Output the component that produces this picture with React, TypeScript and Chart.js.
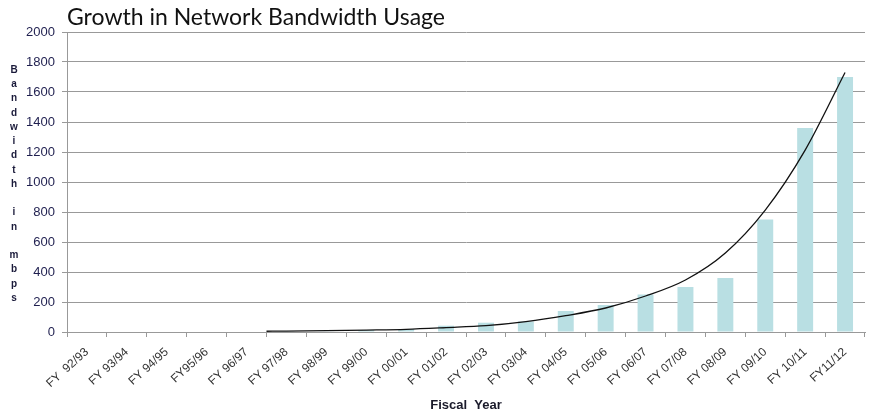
import { useEffect, useRef } from "react";
import { Chart, registerables } from "chart.js";

Chart.register(...registerables);

const categories = [
  "FY  92/93", "FY 93/94", "FY 94/95", "FY95/96", "FY 96/97",
  "FY 97/98", "FY 98/99", "FY 99/00", "FY 00/01", "FY 01/02",
  "FY 02/03", "FY 03/04", "FY 04/05", "FY 05/06", "FY 06/07",
  "FY 07/08", "FY 08/09", "FY 09/10", "FY 10/11", "FY11/12",
];
const bandwidth = [
  null, null, null, null, null,
  2, 4, 13, 20, 42,
  62, 70, 140, 180, 250,
  300, 360, 750, 1360, 1700,
];
const trendX = [4.5, 5, 6, 7, 8, 9, 10, 11, 12, 13, 14, 15, 16, 17, 18, 19];
const trendY = [5, 6, 9, 13, 18, 29, 42, 69, 109, 160, 240, 347, 527, 813, 1213, 1730];
const yMin = 0;
const yMax = 2000;
const yStep = 200;
const chartTitle = "Growth in Network Bandwidth Usage";
const yTitle = "Bandwidth in mbps";
const xTitle = "Fiscal  Year";

const ARIAL = "'Liberation Sans', Arial, sans-serif";

export default function App() {
  const ref = useRef<HTMLCanvasElement | null>(null);

  useEffect(() => {
    if (!ref.current) return;
    const overlay = {
      id: "overlay",
      afterDraw(chart: any) {
        const { ctx, chartArea } = chart;
        ctx.save();
        ctx.fillStyle = "#111111";
        ctx.font = "23px Lato, 'Open Sans', sans-serif";
        ctx.textAlign = "left";
        ctx.textBaseline = "alphabetic";
        ctx.fillText(chartTitle, chartArea.left, 25);

        ctx.fillStyle = "#1a1a3a";
        ctx.font = `bold 10px ${ARIAL}`;
        ctx.textAlign = "center";
        ctx.textBaseline = "middle";
        const letters = yTitle.split("");
        const mid = (chartArea.top + chartArea.bottom) / 2 + 2;
        const gap = 14.25;
        letters.forEach((ch, i) => {
          if (ch.trim() === "") return;
          ctx.fillText(ch, 14, mid + (i - (letters.length - 1) / 2) * gap);
        });
        ctx.restore();
      },
    };

    const chart = new Chart(ref.current, {
      type: "bar",
      data: {
        labels: categories,
        datasets: [
          {
            type: "bar",
            data: bandwidth as any,
            backgroundColor: "#b9dfe3",
            borderWidth: 0,
            grouped: false,
            categoryPercentage: 1,
            barPercentage: 0.4,
            xAxisID: "x",
            order: 2,
          } as any,
          {
            type: "line",
            data: trendX.map((x, i) => ({ x, y: trendY[i] })) as any,
            borderColor: "#111111",
            borderWidth: 1.3,
            pointRadius: 0,
            fill: false,
            tension: 0.4,
            cubicInterpolationMode: "monotone",
            xAxisID: "x2",
            order: 1,
          } as any,
        ],
      },
      options: {
        responsive: false,
        animation: false,
        layout: { padding: { top: 32, right: 4, bottom: 0, left: 0 } },
        plugins: {
          legend: { display: false },
          tooltip: { enabled: false },
          title: { display: false },
        },
        scales: {
          x: {
            type: "category",
            offset: true,
            afterFit(scale: any) {
              scale.height = 83;
            },
            grid: {
              offset: true,
              drawOnChartArea: false,
              drawTicks: true,
              tickLength: 5,
              color: "#999999",
            },
            border: { color: "#999999" },
            ticks: {
              autoSkip: false,
              maxRotation: 42,
              minRotation: 42,
              padding: 8,
              color: "#333333",
              font: { size: 12, family: ARIAL },
            },
            title: {
              display: true,
              text: xTitle,
              color: "#1a1a2a",
              font: { size: 13, weight: "bold", family: ARIAL },
              padding: { top: 0, bottom: 2 },
            },
          },
          x2: {
            type: "linear",
            display: false,
            offset: false,
            grid: { offset: false },
            min: -0.5,
            max: categories.length - 0.5,
          },
          y: {
            min: yMin,
            max: yMax,
            afterFit(scale: any) {
              scale.width = 67;
            },
            grid: {
              color: "#999999",
              tickLength: 5,
            },
            border: { color: "#999999" },
            ticks: {
              stepSize: yStep,
              padding: 7,
              color: "#1f1f4f",
              font: { size: 13, family: ARIAL },
              callback: (v: any) => String(v),
            },
          },
        },
      },
      plugins: [overlay],
    });
    return () => chart.destroy();
  }, []);

  return (
    <canvas
      ref={ref}
      width={869}
      height={415}
      style={{ position: "absolute", left: 0, top: 0, display: "block", background: "#ffffff" }}
    />
  );
}
